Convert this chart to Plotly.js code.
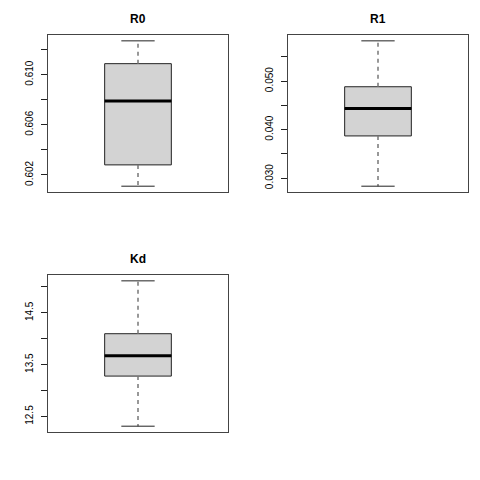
<!DOCTYPE html>
<html>
<head>
<meta charset="utf-8">
<script src="https://cdn.plot.ly/plotly-3.0.1.min.js"></script>
<style>html,body{margin:0;padding:0;background:#fff}#chart{width:480px;height:480px}</style>
</head>
<body>
<div id="chart"></div>
<script>
// Variables and their five-number summaries
var names = ["R0", "R1", "Kd"];
var lowerWhisker = [0.6011, 0.02834, 12.314];
var q1Values     = [0.6028, 0.0387, 13.28];
var medians      = [0.60789, 0.04438, 13.674];
var q3Values     = [0.61088, 0.04884, 14.097];
var upperWhisker = [0.6127, 0.0583, 15.116];

// Tick values and labels
var tickValsR0 = [0.602, 0.604, 0.606, 0.608, 0.610, 0.612];
var tickTextR0 = ["0.602", "", "0.606", "", "0.610", ""];
var tickValsR1 = [0.030, 0.035, 0.040, 0.045, 0.050, 0.055];
var tickTextR1 = ["0.030", "", "0.040", "", "0.050", ""];
var tickValsKd = [12.5, 13.0, 13.5, 14.0, 14.5, 15.0];
var tickTextKd = ["12.5", "", "13.5", "", "14.5", ""];

var tickVals = [tickValsR0, tickValsR1, tickValsKd];
var tickTexts = [tickTextR0, tickTextR1, tickTextKd];

var boxWidth = 0.4;
var capHalf = boxWidth / 4;
var medHalf = boxWidth / 2;

var traces = [];
var axSuffix = ["", "2", "3"];
for (var i = 0; i < names.length; i++) {
  var xa = "x" + axSuffix[i], ya = "y" + axSuffix[i];
  // box body
  traces.push({
    type: "box", x: [0], q1: [q1Values[i]], median: [medians[i]], q3: [q3Values[i]],
    lowerfence: [q1Values[i]], upperfence: [q3Values[i]],
    width: boxWidth, whiskerwidth: 0, boxpoints: false,
    fillcolor: "#D3D3D3", line: {color: "#222", width: 1},
    xaxis: xa, yaxis: ya, showlegend: false, hoverinfo: "skip"
  });
  // dashed whiskers
  traces.push({
    type: "scatter", mode: "lines",
    x: [0, 0, null, 0, 0],
    y: [q3Values[i], upperWhisker[i], null, q1Values[i], lowerWhisker[i]],
    line: {color: "#777", width: 1.5, dash: "4px,4px"},
    xaxis: xa, yaxis: ya, showlegend: false, hoverinfo: "skip"
  });
  // whisker caps
  traces.push({
    type: "scatter", mode: "lines",
    x: [-capHalf, capHalf, null, -capHalf, capHalf],
    y: [upperWhisker[i], upperWhisker[i], null, lowerWhisker[i], lowerWhisker[i]],
    line: {color: "#222", width: 1},
    xaxis: xa, yaxis: ya, showlegend: false, hoverinfo: "skip"
  });
  // thick median
  traces.push({
    type: "scatter", mode: "lines",
    x: [-medHalf, medHalf], y: [medians[i], medians[i]],
    line: {color: "#000", width: 3},
    xaxis: xa, yaxis: ya, showlegend: false, hoverinfo: "skip"
  });
}

function yRange(i) {
  var lo = lowerWhisker[i], hi = upperWhisker[i], d = (hi - lo) * 0.04;
  return [lo - d, hi + d];
}

var font = {family: "Liberation Sans, Arial, sans-serif", size: 10, color: "#000"};
function xAxis(domain) {
  return {domain: domain, range: [-0.54, 0.54], showticklabels: false, ticks: "",
    showgrid: false, zeroline: false, showline: true, mirror: true,
    linecolor: "#444", linewidth: 1, fixedrange: true};
}
function yAxis(domain, i) {
  return {domain: domain, range: yRange(i), tickmode: "array",
    tickvals: tickVals[i], ticktext: tickTexts[i], tickangle: -90,
    ticks: "outside", ticklen: 6, tickcolor: "#222", tickwidth: 1,
    ticklabelstandoff: 4,
    tickfont: font, showgrid: false, zeroline: false, showline: true, mirror: true,
    linecolor: "#444", linewidth: 1, fixedrange: true};
}

var titleFont = {family: "Liberation Sans, Arial, sans-serif", size: 12, color: "#000"};
var layout = {
  width: 480, height: 480,
  margin: {l: 0, r: 0, t: 0, b: 0},
  paper_bgcolor: "#fff", plot_bgcolor: "#fff",
  showlegend: false,
  xaxis: Object.assign(xAxis([0.1, 0.475]), {anchor: "y"}),
  yaxis: Object.assign(yAxis([0.6, 0.927], 0), {anchor: "x"}),
  xaxis2: Object.assign(xAxis([0.6, 0.975]), {anchor: "y2"}),
  yaxis2: Object.assign(yAxis([0.6, 0.927], 1), {anchor: "x2"}),
  xaxis3: Object.assign(xAxis([0.1, 0.475]), {anchor: "y3"}),
  yaxis3: Object.assign(yAxis([0.1, 0.427], 2), {anchor: "x3"}),
  annotations: [
    {text: "<b>" + names[0] + "</b>", xref: "paper", yref: "paper", x: 0.2875, y: 0.9604, showarrow: false, font: titleFont, xanchor: "center", yanchor: "middle"},
    {text: "<b>" + names[1] + "</b>", xref: "paper", yref: "paper", x: 0.7875, y: 0.9604, showarrow: false, font: titleFont, xanchor: "center", yanchor: "middle"},
    {text: "<b>" + names[2] + "</b>", xref: "paper", yref: "paper", x: 0.2875, y: 0.4604, showarrow: false, font: titleFont, xanchor: "center", yanchor: "middle"}
  ]
};

Plotly.newPlot("chart", traces, layout, {staticPlot: true, displayModeBar: false});
</script>
</body>
</html>
